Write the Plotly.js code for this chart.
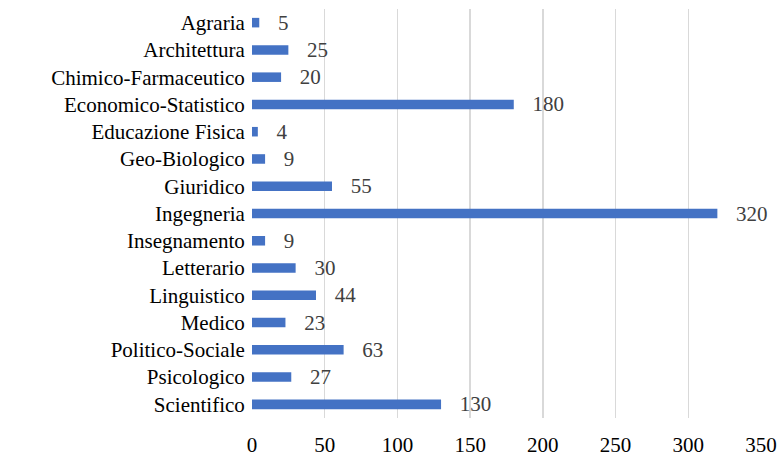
<!DOCTYPE html>
<html><head><meta charset="utf-8">
<script src="https://cdn.plot.ly/plotly-3.0.1.min.js"></script>
<style>html,body{margin:0;padding:0;background:#fff;}#c{width:781px;height:458px;}
#c svg text{font-family:'Liberation Serif','Times New Roman',serif !important;}</style>
</head><body><div id="c"></div>
<script>
var categories = ["Agraria","Architettura","Chimico-Farmaceutico","Economico-Statistico","Educazione Fisica","Geo-Biologico","Giuridico","Ingegneria","Insegnamento","Letterario","Linguistico","Medico","Politico-Sociale","Psicologico","Scientifico"];
var values = [5,25,20,180,4,9,55,320,9,30,44,23,63,27,130];
var tickVals = [0,50,100,150,200,250,300,350];

var FONT = 'Liberation Serif';
var trace = {
  type: 'bar', orientation: 'h',
  y: categories, x: values,
  marker: {color: '#4472C4'},
  width: 0.35,
  text: values.map(function(v){return '   ' + v;}),
  textposition: 'outside',
  constraintext: 'none',
  cliponaxis: false,
  textfont: {family: FONT, size: 21, color: '#404040'},
  hoverinfo: 'none'
};
var layout = {
  width: 781, height: 458,
  margin: {l: 252, r: 20, t: 9, b: 40},
  paper_bgcolor: '#fff', plot_bgcolor: '#fff',
  showlegend: false,
  font: {family: FONT, size: 21, color: '#000'},
  xaxis: {range: [0, 350], tickvals: tickVals, showgrid: true, gridcolor: '#d9d9d9', gridwidth: 1.5,
          zeroline: false, showline: false, ticks: 'outside', ticklen: 8, tickcolor: 'rgba(0,0,0,0)',
          tickfont: {family: FONT, size: 21, color: '#000'}},
  yaxis: {autorange: 'reversed', showgrid: false, zeroline: false, showline: false,
          ticks: 'outside', ticklen: 2, tickcolor: 'rgba(0,0,0,0)',
          tickfont: {family: FONT, size: 21, color: '#000'}}
};
Plotly.newPlot('c', [trace], layout, {displayModeBar: false, staticPlot: true});
</script></body></html>
